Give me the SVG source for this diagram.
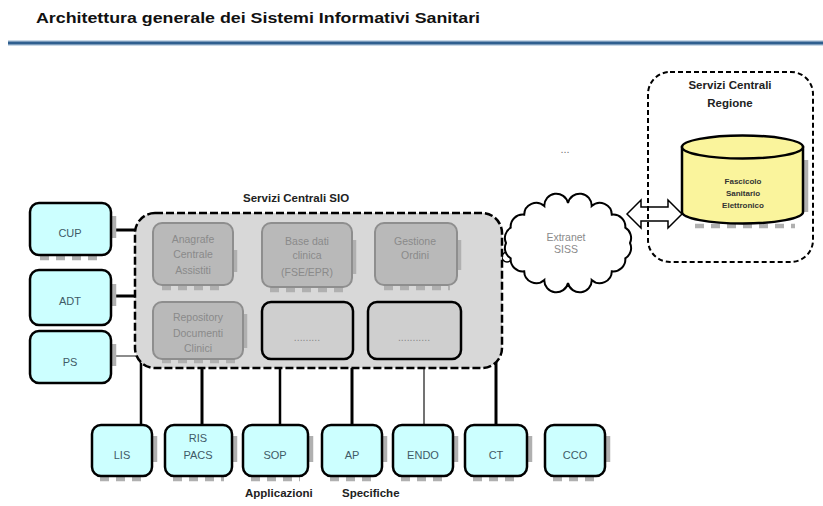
<svg xmlns="http://www.w3.org/2000/svg" width="823" height="506" viewBox="0 0 823 506">
<style>
text{font-family:"Liberation Sans",Arial,sans-serif}
.title{font-size:14px;font-weight:bold;fill:#111}
.lbl{font-size:11.5px;font-weight:bold;fill:#222}
.app{fill:#ccffff;stroke:#000;stroke-width:2.5}
.apptxt{font-size:11px;fill:#3f5a66;text-anchor:middle}
.sh{stroke:#b0b0b0;stroke-width:4.5;fill:none;stroke-dasharray:9 7}
.tab{stroke:#b0b0b0;stroke-width:4.5;fill:none}
.svc{fill:#b9b9b9;stroke:#8e8e8e;stroke-width:2}
.svc2{fill:#cfcfcf;stroke:#000;stroke-width:2.5}
.svctxt{font-size:10.5px;fill:#8a8a8a;text-anchor:middle}
.con{stroke:#000;fill:none}
</style>
<rect width="823" height="506" fill="#fff"/>
<text class="title" x="36" y="23" textLength="444" lengthAdjust="spacingAndGlyphs">Architettura generale dei Sistemi Informativi Sanitari</text>
<rect x="8" y="40" width="815" height="6" fill="#c9d8e6"/>
<rect x="8" y="41.5" width="815" height="3" fill="#2f5f8f"/>

<g id="connectors">
  <line class="con" x1="112" y1="230" x2="140" y2="230" stroke-width="3"/>
  <line class="con" x1="112" y1="296" x2="140" y2="296" stroke-width="3"/>
  <line x1="112" y1="356" x2="140" y2="356" stroke="#666" stroke-width="1.5"/>
  <line class="con" x1="141" y1="355" x2="141" y2="425" stroke-width="2.5"/>
  <line class="con" x1="202" y1="360" x2="202" y2="425" stroke-width="3"/>
  <line class="con" x1="280" y1="360" x2="280" y2="425" stroke-width="2.5"/>
  <line class="con" x1="352" y1="360" x2="352" y2="425" stroke-width="3"/>
  <line x1="424" y1="360" x2="424" y2="425" stroke="#444" stroke-width="1.5"/>
  <line class="con" x1="496" y1="355" x2="496" y2="425" stroke-width="3"/>
  <polygon points="627,214 641,200 641,207 668,207 668,200 682,214 668,228 668,221 641,221 641,228" fill="#fff" stroke="#000" stroke-width="1.5"/>
  <rect x="494" y="255" width="6" height="6" fill="#666"/>
  <circle cx="507" cy="257" r="5" fill="none" stroke="#000" stroke-width="1.5"/>
</g>

<g id="sio">
  <rect x="135" y="213" width="367" height="155" rx="20" fill="#d8d8d8" stroke="#000" stroke-width="2.5" stroke-dasharray="8 3"/>
  <text class="lbl" x="243" y="202">Servizi Centrali SIO</text>
</g>

<g id="anagrafe">
  <line class="tab" x1="235" y1="250" x2="235" y2="272"/>
  <line class="sh" x1="162" y1="288" x2="226" y2="288"/>
  <rect class="svc" x="153" y="223" width="80" height="62" rx="9"/>
  <text class="svctxt" x="193" y="243">Anagrafe</text>
  <text class="svctxt" x="193" y="258">Centrale</text>
  <text class="svctxt" x="193" y="274">Assistiti</text>
</g>
<g id="basedati">
  <line class="tab" x1="354" y1="240" x2="354" y2="274"/>
  <line class="sh" x1="270" y1="290" x2="344" y2="290" stroke-dasharray="12 40"/>
  <rect class="svc" x="262" y="223" width="90" height="64" rx="9"/>
  <text class="svctxt" x="307" y="245">Base dati</text>
  <text class="svctxt" x="307" y="259">clinica</text>
  <text class="svctxt" x="307" y="276">(FSE/EPR)</text>
</g>
<g id="gestione">
  <line class="tab" x1="459" y1="240" x2="459" y2="270"/>
  <line class="sh" x1="384" y1="288" x2="450" y2="288"/>
  <rect class="svc" x="375" y="223" width="82" height="62" rx="9"/>
  <text class="svctxt" x="415" y="245">Gestione</text>
  <text class="svctxt" x="415" y="259">Ordini</text>
</g>
<g id="repository">
  <line class="tab" x1="245" y1="314" x2="245" y2="348"/>
  <line class="sh" x1="162" y1="361" x2="236" y2="361" stroke-dasharray="7 6"/>
  <rect class="svc" x="153" y="302" width="90" height="57" rx="9"/>
  <text class="svctxt" x="198" y="321">Repository</text>
  <text class="svctxt" x="198" y="337">Documenti</text>
  <text class="svctxt" x="198" y="352">Clinici</text>
</g>
<g id="altro1">
  <rect class="svc2" x="262" y="302" width="91" height="57" rx="9"/>
  <text class="svctxt" x="307" y="341">.........</text>
</g>
<g id="altro2">
  <rect class="svc2" x="368" y="302" width="93" height="57" rx="9"/>
  <text class="svctxt" x="414" y="341">...........</text>
</g>

<g id="extranet">
  <path d="M630,243 A12,12 0 0 1 625.3,258.3 A12,12 0 0 1 611.8,271.3 A12,12 0 0 1 591.7,280 A12,12 0 0 1 568,283 A12,12 0 0 1 544.3,280 A12,12 0 0 1 524.2,271.3 A12,12 0 0 1 510.7,258.3 A12,12 0 0 1 506,243 A12,12 0 0 1 510.7,227.7 A12,12 0 0 1 524.2,214.7 A12,12 0 0 1 544.3,206 A12,12 0 0 1 568,203 A12,12 0 0 1 591.7,206 A12,12 0 0 1 611.8,214.7 A12,12 0 0 1 625.3,227.7 A12,12 0 0 1 630,243 Z" fill="#fff" stroke="#000" stroke-width="2"/>
  <text class="svctxt" x="566" y="241" fill="#777" font-size="9.5">Extranet</text>
  <text class="svctxt" x="566" y="253" fill="#777" font-size="9.5">SISS</text>
</g>

<text x="565" y="153" font-size="11" fill="#777" text-anchor="middle">...</text>

<g id="regione">
  <rect x="648" y="72" width="165" height="190" rx="22" fill="none" stroke="#000" stroke-width="2" stroke-dasharray="5 3"/>
  <text class="lbl" x="730" y="89" text-anchor="middle" font-size="11">Servizi Centrali</text>
  <text class="lbl" x="730" y="107" text-anchor="middle" font-size="11">Regione</text>
</g>
<g id="fascicolo">
  <line class="tab" x1="806" y1="160" x2="806" y2="212"/>
  <line class="sh" x1="695" y1="226" x2="795" y2="226"/>
  <path d="M682,147 L682,212 A60.5,11.5 0 0 0 803,212 L803,147 Z" fill="#faf49c" stroke="#000" stroke-width="2.5"/>
  <ellipse cx="742.5" cy="147" rx="60.5" ry="11.5" fill="#faf49c" stroke="#000" stroke-width="2.5"/>
  <text x="743" y="184" font-size="8" font-weight="bold" fill="#333" text-anchor="middle">Fascicolo</text>
  <text x="743" y="196" font-size="8" font-weight="bold" fill="#333" text-anchor="middle">Sanitario</text>
  <text x="743" y="208" font-size="8" font-weight="bold" fill="#333" text-anchor="middle">Elettronico</text>
</g>

<g id="cup">
  <line class="tab" x1="114" y1="216" x2="114" y2="238"/>
  <line class="sh" x1="40" y1="258" x2="102" y2="258" stroke-dasharray="9 12"/>
  <rect class="app" x="30" y="203" width="81" height="52" rx="9"/>
  <text class="apptxt" x="70" y="237">CUP</text>
</g>
<g id="adt">
  <line class="tab" x1="114" y1="284" x2="114" y2="306"/>
  <rect class="app" x="30" y="270" width="81" height="55" rx="9"/>
  <text class="apptxt" x="70" y="305">ADT</text>
</g>
<g id="ps">
  <line class="tab" x1="114" y1="344" x2="114" y2="366"/>
  <rect class="app" x="30" y="331" width="81" height="52" rx="9"/>
  <text class="apptxt" x="70" y="366">PS</text>
</g>

<g id="lis">
  <line class="tab" x1="155" y1="436" x2="155" y2="462"/>
  <line class="sh" x1="100" y1="479" x2="144" y2="479"/>
  <rect class="app" x="92" y="425" width="60" height="51" rx="9"/>
  <text class="apptxt" x="122" y="459">LIS</text>
</g>
<g id="rispacs">
  <line class="tab" x1="235" y1="436" x2="235" y2="462"/>
  <line class="sh" x1="173" y1="479" x2="224" y2="479"/>
  <rect class="app" x="165" y="425" width="67" height="51" rx="9"/>
  <text class="apptxt" x="198" y="442">RIS</text>
  <text class="apptxt" x="198" y="459">PACS</text>
</g>
<g id="sop">
  <line class="tab" x1="311" y1="436" x2="311" y2="462"/>
  <line class="sh" x1="251" y1="479" x2="300" y2="479"/>
  <rect class="app" x="243" y="425" width="65" height="51" rx="9"/>
  <text class="apptxt" x="275" y="459">SOP</text>
</g>
<g id="ap">
  <line class="tab" x1="385" y1="436" x2="385" y2="462"/>
  <line class="sh" x1="330" y1="479" x2="374" y2="479"/>
  <rect class="app" x="322" y="425" width="60" height="51" rx="9"/>
  <text class="apptxt" x="352" y="459">AP</text>
</g>
<g id="endo">
  <line class="tab" x1="456" y1="436" x2="456" y2="462"/>
  <line class="sh" x1="401" y1="479" x2="445" y2="479"/>
  <rect class="app" x="393" y="425" width="60" height="51" rx="9"/>
  <text class="apptxt" x="423" y="459">ENDO</text>
</g>
<g id="ct">
  <line class="tab" x1="530" y1="436" x2="530" y2="462"/>
  <line class="sh" x1="473" y1="479" x2="519" y2="479"/>
  <rect class="app" x="465" y="425" width="62" height="51" rx="9"/>
  <text class="apptxt" x="496" y="459">CT</text>
</g>
<g id="cco">
  <line class="tab" x1="608" y1="436" x2="608" y2="462"/>
  <line class="sh" x1="553" y1="479" x2="597" y2="479"/>
  <rect class="app" x="545" y="425" width="60" height="51" rx="9"/>
  <text class="apptxt" x="575" y="459">CCO</text>
</g>

<text class="lbl" x="245" y="497">Applicazioni</text>
<text class="lbl" x="342" y="497">Specifiche</text>
</svg>
